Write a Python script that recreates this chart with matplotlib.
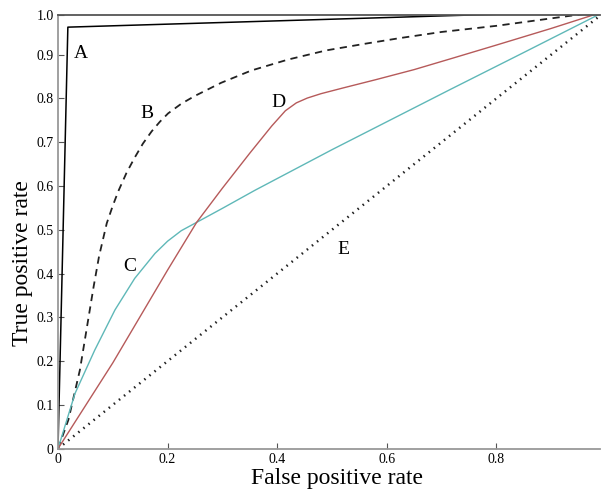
import matplotlib
matplotlib.use("Agg")
import matplotlib.pyplot as plt

# ROC curves (false positive rate, true positive rate)
fprA = [0, 0.018, 1.0]
tprA = [0, 0.963, 1.0]

fprB = [0, 0.019, 0.040, 0.055, 0.065, 0.075, 0.089, 0.10, 0.110, 0.125, 0.140,
        0.155, 0.171, 0.186, 0.201, 0.225, 0.250, 0.298, 0.353, 0.42, 0.49,
        0.56, 0.624, 0.70, 0.80, 0.90, 1.0]
tprB = [0, 0.066, 0.180, 0.294, 0.370, 0.440, 0.515, 0.555, 0.588, 0.630, 0.665,
        0.697, 0.725, 0.747, 0.766, 0.788, 0.806, 0.836, 0.864, 0.889, 0.910,
        0.925, 0.938, 0.952, 0.966, 0.983, 1.0]

fprC = [0, 0.031, 0.067, 0.104, 0.140, 0.177, 0.20, 0.225, 0.253, 0.30, 0.359,
        0.50, 0.715, 0.85, 1.0]
tprC = [0, 0.126, 0.225, 0.317, 0.389, 0.446, 0.474, 0.498, 0.517, 0.549, 0.590,
        0.683, 0.820, 0.905, 1.0]

fprD = [0, 0.05, 0.10, 0.15, 0.20, 0.253, 0.30, 0.35, 0.39, 0.415, 0.435, 0.455,
        0.48, 0.52, 0.58, 0.65, 0.72, 0.80, 0.90, 1.0]
tprD = [0, 0.098, 0.196, 0.302, 0.408, 0.517, 0.595, 0.675, 0.737, 0.772, 0.790,
        0.801, 0.811, 0.824, 0.843, 0.866, 0.892, 0.922, 0.960, 1.0]

fprE = [0, 1.0]
tprE = [0, 1.0]

curveNames = ['A', 'B', 'C', 'D', 'E']
nameX = [0.042, 0.162, 0.131, 0.403, 0.521]
nameY = [0.903, 0.766, 0.416, 0.792, 0.454]

xTicks = [0, 0.2, 0.4, 0.6, 0.8]
xTickLabels = ['0', '0.2', '0.4', '0.6', '0.8']
yTicks = [0, 0.1, 0.2, 0.3, 0.4, 0.5, 0.6, 0.7, 0.8, 0.9, 0.99]
yTickLabels = ['0', '0.1', '0.2', '0.3', '0.4', '0.5', '0.6', '0.7', '0.8', '0.9', '1.0']


def main():
    plt.rcParams['font.family'] = ['Liberation Serif', 'DejaVu Serif']

    fig = plt.figure(figsize=(6.01, 4.93), dpi=100)
    ax = fig.add_axes([0.0965, 0.0899, 0.9025, 0.879])

    ax.plot(fprA, tprA, color='black', linewidth=1.1)
    ax.plot(fprB, tprB, color='#222222', linewidth=1.3, linestyle=(0, (4, 3)))
    ax.plot(fprC, tprC, color='#5fb8b8', linewidth=1.0)
    ax.plot(fprD, tprD, color='#b65a5a', linewidth=1.0)
    ax.plot(fprE, tprE, color='#222222', linewidth=1.8, linestyle=(0, (0.6, 2.0)))

    for name, x, y in zip(curveNames, nameX, nameY):
        ax.text(x, y, name, fontsize=14, ha='center', va='center')

    ax.set_xlim(0, 0.99)
    ax.set_ylim(0, 0.99)
    ax.set_xticks(xTicks)
    ax.set_xticklabels(xTickLabels)
    ax.set_yticks(yTicks)
    ax.set_yticklabels(yTickLabels)
    ax.tick_params(direction='in', length=4, width=0.8, color='#555555',
                   labelsize=10, pad=3)

    ax.spines['right'].set_visible(False)
    ax.spines['top'].set_color('#555555')
    ax.spines['left'].set_color('#999999')
    ax.spines['bottom'].set_color('#999999')
    for side in ['top', 'left', 'bottom']:
        ax.spines[side].set_linewidth(1.3)

    ax.set_xlabel('False positive rate', fontsize=17)
    ax.set_ylabel('True positive rate', fontsize=17)
    ax.xaxis.set_label_coords(0.515, -0.045)
    ax.yaxis.set_label_coords(-0.046, 0.428)

    fig.savefig('out.png', dpi=100)


if (__name__ == '__main__'):
    main()
